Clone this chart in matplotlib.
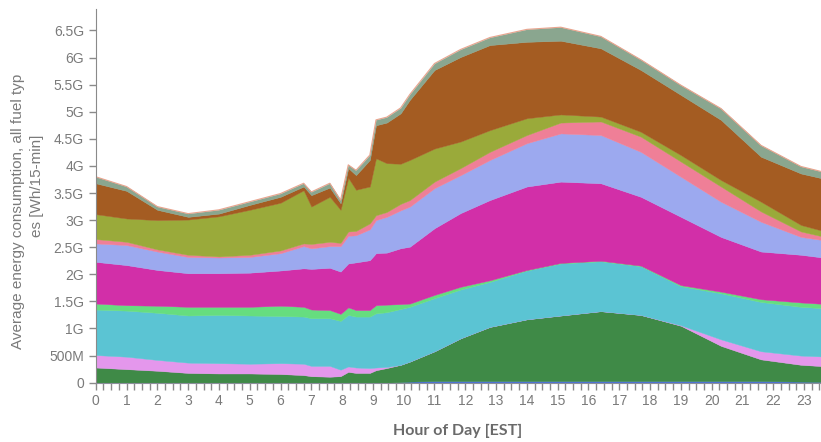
import numpy as np
import matplotlib
matplotlib.use("Agg")
import matplotlib.pyplot as plt
from matplotlib.ticker import MultipleLocator, FuncFormatter

plt.rcParams['font.family'] = ['Liberation Sans', 'DejaVu Sans']

# hour of day (15-min samples, read at the visible kinks)
hours = [0, 1, 2, 3, 4, 5, 6, 6.75, 7.0, 7.6, 7.95, 8.2, 8.45, 8.9, 9.1, 9.45, 9.9,
         10.2, 11, 11.85, 12.8, 14, 15.1, 16.4, 17.7, 19, 20.3, 21.6, 22.9, 23.75]

# upper edge of each stacked layer, in G Wh / 15-min
top_blue = [0, 0, 0, 0, 0, 0, 0, 0, 0, 0, 0, 0, 0, 0, 0, 0, 0.01,
            0.02, 0.03, 0.03, 0.03, 0.03, 0.03, 0.03, 0.03, 0.03, 0.03, 0.03, 0.02, 0.015]
top_green = [0.28, 0.25, 0.22, 0.18, 0.17, 0.17, 0.16, 0.14, 0.12, 0.11, 0.12, 0.20, 0.18, 0.18, 0.23, 0.27, 0.33,
             0.39, 0.58, 0.82, 1.03, 1.17, 1.24, 1.32, 1.25, 1.05, 0.68, 0.43, 0.33, 0.30]
top_violet = [0.51, 0.48, 0.42, 0.37, 0.36, 0.35, 0.36, 0.35, 0.31, 0.31, 0.24, 0.30, 0.28, 0.27, 0.28, 0.29, 0.33,
              0.39, 0.58, 0.82, 1.03, 1.17, 1.24, 1.32, 1.25, 1.06, 0.80, 0.58, 0.50, 0.48]
top_cyan = [1.35, 1.33, 1.29, 1.24, 1.25, 1.24, 1.23, 1.22, 1.19, 1.19, 1.14, 1.25, 1.22, 1.22, 1.28, 1.30, 1.36,
            1.40, 1.56, 1.72, 1.86, 2.07, 2.20, 2.24, 2.15, 1.78, 1.65, 1.49, 1.40, 1.37]
top_lgreen = [1.46, 1.43, 1.42, 1.40, 1.40, 1.40, 1.42, 1.40, 1.35, 1.34, 1.27, 1.39, 1.34, 1.34, 1.43, 1.44, 1.45,
              1.46, 1.62, 1.77, 1.89, 2.08, 2.21, 2.25, 2.16, 1.80, 1.68, 1.54, 1.48, 1.45]
top_magenta = [2.23, 2.17, 2.08, 2.02, 2.02, 2.03, 2.07, 2.11, 2.10, 2.12, 2.05, 2.20, 2.22, 2.26, 2.39, 2.40, 2.48,
               2.51, 2.85, 3.13, 3.37, 3.62, 3.71, 3.68, 3.43, 3.06, 2.69, 2.42, 2.36, 2.30]
top_periwinkle = [2.57, 2.54, 2.42, 2.32, 2.31, 2.32, 2.39, 2.52, 2.48, 2.52, 2.52, 2.71, 2.72, 2.83, 3.00, 3.06, 3.18,
                  3.25, 3.59, 3.83, 4.11, 4.42, 4.60, 4.57, 4.26, 3.80, 3.34, 2.97, 2.69, 2.62]
top_pink = [2.65, 2.60, 2.46, 2.36, 2.33, 2.36, 2.44, 2.57, 2.56, 2.60, 2.58, 2.79, 2.80, 2.94, 3.09, 3.15, 3.30,
            3.37, 3.71, 3.96, 4.26, 4.57, 4.80, 4.82, 4.54, 4.08, 3.62, 3.16, 2.79, 2.68]
top_olive = [3.11, 3.03, 3.00, 3.01, 3.07, 3.19, 3.32, 3.55, 3.25, 3.43, 3.19, 3.78, 3.56, 3.62, 4.14, 4.05, 4.04,
             4.11, 4.32, 4.45, 4.66, 4.88, 4.95, 4.91, 4.63, 4.20, 3.74, 3.34, 2.91, 2.78]
top_brown = [3.68, 3.54, 3.19, 3.06, 3.12, 3.28, 3.43, 3.62, 3.46, 3.60, 3.31, 3.96, 3.83, 4.11, 4.75, 4.80, 4.97,
             5.22, 5.77, 6.01, 6.23, 6.29, 6.31, 6.17, 5.77, 5.31, 4.85, 4.17, 3.86, 3.75]
top_gray = [3.80, 3.62, 3.25, 3.12, 3.19, 3.34, 3.49, 3.68, 3.52, 3.68, 3.37, 4.02, 3.92, 4.20, 4.85, 4.90, 5.07,
            5.32, 5.89, 6.15, 6.37, 6.52, 6.56, 6.39, 5.96, 5.49, 5.06, 4.38, 3.99, 3.87]

colors = ['#4a72d6', '#3f8a47', '#e497ec', '#5bc4d3', '#66dd7f', '#d22fa8',
          '#9ca9ef', '#ef7f97', '#9aaa3a', '#a45c22', '#8aa68f']

tops = np.array([top_blue, top_green, top_violet, top_cyan, top_lgreen, top_magenta,
                 top_periwinkle, top_pink, top_olive, top_brown, top_gray])
layers = np.diff(np.vstack([np.zeros(len(hours)), tops]), axis=0)

fig = plt.figure(figsize=(8.21, 4.42), dpi=100)
ax = fig.add_axes([0.1166, 0.1342, 0.8834, 0.846])

ax.stackplot(hours, layers, colors=colors, edgecolor='face', linewidth=0.3)
ax.plot(hours, top_gray, color='#e9a48e', lw=0.8)

ax.set_xlim(0, 23.55)
ax.set_ylim(0, 6.9)

ax.xaxis.set_major_locator(MultipleLocator(1))
ax.xaxis.set_minor_locator(MultipleLocator(0.25))
ax.yaxis.set_major_locator(MultipleLocator(0.5))


def fmt_energy(v, pos):
    if v == 0:
        return '0'
    if v < 1:
        return '%dM' % round(v * 1000)
    return ('%g' % v) + 'G'


ax.yaxis.set_major_formatter(FuncFormatter(fmt_energy))

grey = '#7a7a7a'
for s in ['top', 'right']:
    ax.spines[s].set_visible(False)
ax.spines['left'].set_color('#8a8a8a')
ax.spines['bottom'].set_color('#8a8e9a')
ax.tick_params(axis='both', which='both', colors='#8a8a8a', labelcolor=grey,
               labelsize=10, length=5, width=1, direction='out')
ax.tick_params(axis='x', pad=3)

fig.text(0.022, 0.522, 'Average energy consumption, all fuel typ', rotation=90,
         ha='center', va='center', fontsize=11, color=grey)
fig.text(0.045, 0.58, 'es [Wh/15-min]', rotation=90,
         ha='center', va='center', fontsize=11, color=grey)
fig.text(0.558, 0.025, 'Hour of Day [EST]', ha='center', va='center',
         fontsize=11.5, color='#6a6a6a', family='Lato', fontweight='bold')

fig.savefig('out.png', dpi=100)
